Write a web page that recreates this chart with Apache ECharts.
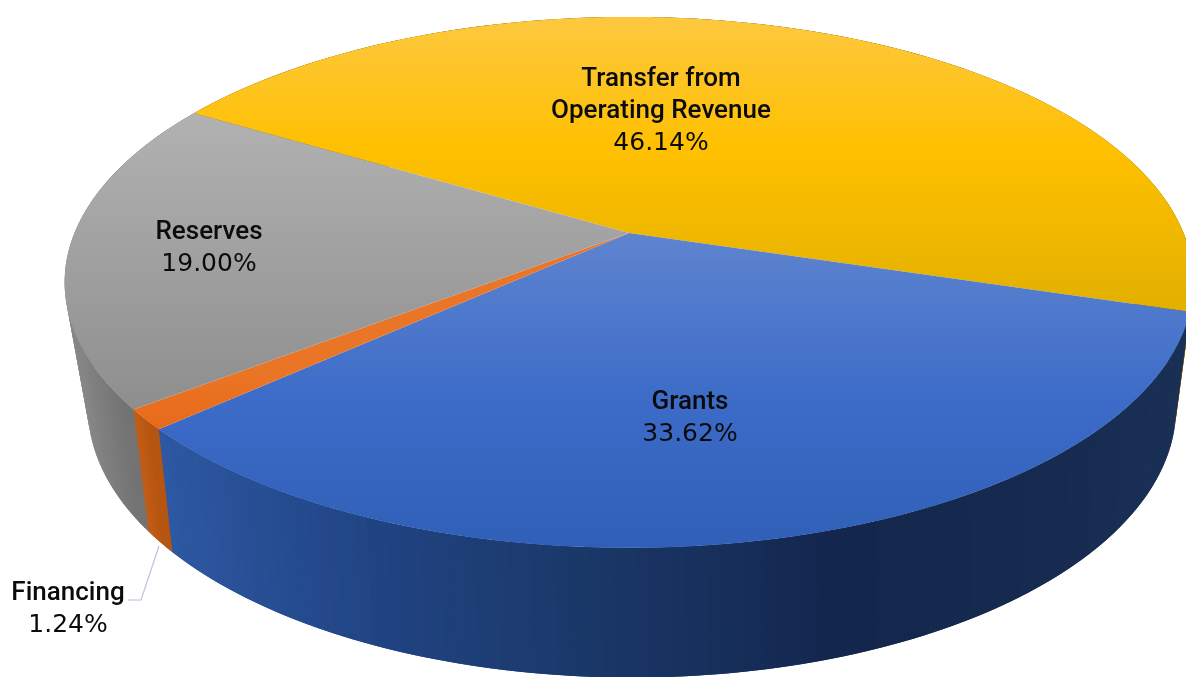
<!DOCTYPE html>
<html>
<head>
<meta charset="utf-8">
<title>Funding sources</title>
<script src="https://cdn.jsdelivr.net/npm/echarts@6/dist/echarts.min.js"></script>
<style>
html, body { margin: 0; padding: 0; background: #fff; }
#chart { width: 1186px; height: 677px; }
</style>
</head>
<body>
<div id="chart"></div>
<script>
// chart data
const categories = ['Transfer from\nOperating Revenue', 'Grants', 'Financing', 'Reserves']
const shares = [46.14, 33.62, 1.24, 19.00]

// ECharts has no 3D pie, so the disc is projected by hand: two planes, same angles
const startDeg = -149.2
const topPlane = { x0: 629, y0: 233, A: 554.5, B: 256.3, k: -0.186 }
const bottomPlane = { x0: 632, y0: 351, A: 532, B: 258, k: -0.21 }

const topColors = [
    [[17, '#fdc840'], [150, '#ffc000'], [310, '#e2b000']],
    [[233, '#5f84cf'], [400, '#3c6cc8'], [548, '#2f5fb6']],
    [[372, '#eb7526'], [428, '#e76a1a']],
    [[112, '#b2b2b2'], [410, '#8e8e8e']]
]
const wallColors = [
    [[1100, '#8a6c00'], [1190, '#8a6c00']],
    [[160, '#2f5aa6'], [400, '#204382'], [600, '#1a3869'], [850, '#13264c'], [1000, '#16294e'], [1180, '#1a3056']],
    [[146, '#c9621a'], [172, '#b55510']],
    [[66, '#939393'], [146, '#737373']]
]
const labelAnchors = [[661, 111], [690, 418], [68, 609], [209, 248]]
const leaderLine = [[159, 546], [141, 600], [128, 600]]

const sum = shares.reduce((a, b) => a + b, 0)

// angle ranges of the slices, from the values
let cursor = startDeg
const ranges = shares.map(v => {
    const r = [cursor, cursor + v / sum * 360]
    cursor = r[1]
    return r
})

function project(plane, deg) {
    const u = Math.cos(deg * Math.PI / 180)
    const v = Math.sin(deg * Math.PI / 180)
    const w = 1 + plane.k * v
    return [plane.x0 + plane.A * u / w, plane.y0 + plane.B * v / w]
}

function colorAt(stops, x) {
    if (x <= stops[0][0]) return stops[0][1]
    for (let i = 1; i < stops.length; i++) {
        if (x <= stops[i][0]) {
            const t = (x - stops[i - 1][0]) / (stops[i][0] - stops[i - 1][0])
            return echarts.color.lerp(t, [stops[i - 1][1], stops[i][1]])
        }
    }
    return stops[stops.length - 1][1]
}

function renderWall(params) {
    const i = params.dataIndex
    const [a, b] = ranges[i]
    const n = Math.max(2, Math.ceil(b - a))
    const step = (b - a) / n
    const strips = []
    for (let s = 0; s < n; s++) {
        const d0 = a + step * s
        // each strip overlaps its neighbour, so no seams show
        const d1 = d0 + step * 2
        const p0 = project(topPlane, d0), p1 = project(topPlane, d1)
        const q0 = project(bottomPlane, d0), q1 = project(bottomPlane, d1)
        strips.push({
            depth: Math.sin((d0 + d1) / 2 * Math.PI / 180),
            el: {
                type: 'polygon',
                shape: { points: [p0, p1, q1, q0] },
                style: { fill: colorAt(wallColors[i], q0[0]) }
            }
        })
    }
    // back strips first, the front ones paint over them
    strips.sort((x, y) => x.depth - y.depth)
    return { type: 'group', children: strips.map(s => s.el) }
}

function renderTop(params) {
    const i = params.dataIndex
    const [a, b] = ranges[i]
    const stops = topColors[i]
    const y0 = stops[0][0], y1 = stops[stops.length - 1][0]
    const points = [[topPlane.x0, topPlane.y0]]
    const n = Math.max(4, Math.ceil((b - a) * 2))
    for (let s = 0; s <= n; s++) points.push(project(topPlane, a + (b - a) * s / n))
    return {
        type: 'polygon',
        shape: { points },
        style: {
            fill: new echarts.graphic.LinearGradient(0, y0, 0, y1,
                stops.map(p => ({ offset: (p[0] - y0) / (y1 - y0), color: p[1] })), true)
        }
    }
}

function renderLabel(params) {
    const i = params.dataIndex
    const nameLines = categories[i].split('\n').map(t => '{name|' + t + '}')
    return {
        type: 'text',
        style: {
            x: labelAnchors[i][0],
            y: labelAnchors[i][1],
            text: nameLines.join('\n') + '\n{pct|' + shares[i].toFixed(2) + '%}',
            align: 'center',
            verticalAlign: 'middle',
            rich: {
                name: { fontFamily: 'Roboto', fontWeight: 500, fontSize: 26, lineHeight: 32, fill: '#0b0b0b' },
                pct: { fontFamily: 'DejaVu Sans', fontSize: 25, lineHeight: 32, fill: '#0b0b0b' }
            }
        }
    }
}

const chart = echarts.init(document.getElementById('chart'), null, { renderer: 'canvas' })
const rows = shares.map((v, i) => [i, v])
chart.setOption({
    animation: false,
    backgroundColor: '#ffffff',
    series: [
        { type: 'custom', coordinateSystem: 'none', z: 1, silent: true, data: rows, renderItem: renderWall },
        { type: 'custom', coordinateSystem: 'none', z: 2, silent: true, data: rows, renderItem: renderTop },
        { type: 'custom', coordinateSystem: 'none', z: 3, silent: true, data: rows, renderItem: renderLabel },
        {
            type: 'custom',
            coordinateSystem: 'none',
            z: 3,
            silent: true,
            data: [0],
            renderItem: () => ({
                type: 'polyline',
                shape: { points: leaderLine },
                style: { fill: 'none', stroke: '#b7c4d9', lineWidth: 1.2 }
            })
        }
    ]
})
</script>
</body>
</html>
